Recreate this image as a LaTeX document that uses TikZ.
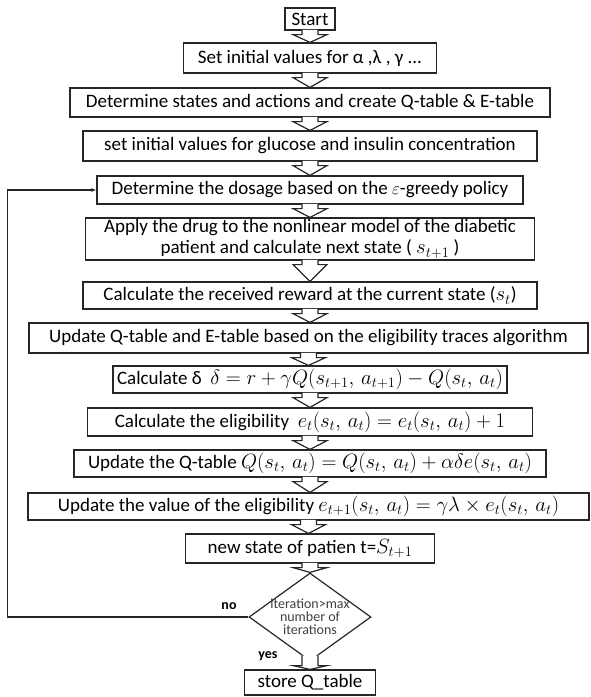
\documentclass[tikz,border=0pt]{standalone}
\usepackage{fontspec}
\setmainfont{Carlito}
\usetikzlibrary{shapes.geometric,arrows.meta,calc}

\newcommand{\eqn}[1]{{\fontsize{22}{22}\selectfont$#1$}}
\newcommand{\blockarrow}[3][0.8pt]{%
  \draw[blockarr] let \p1=(#2.south), \p2=(#3.north) in
    (\x1-8pt,\y1+#1) -- (\x1-8pt,\y1-4pt) -- (\x1-17pt,\y1-4pt) -- (\x1,\y2)
    -- (\x1+17pt,\y1-4pt) -- (\x1+8pt,\y1-4pt) -- (\x1+8pt,\y1+#1);}

\begin{document}
\begin{tikzpicture}[x=1pt,y=-1pt,
  box/.style={draw=black!85,line width=1.2pt,fill=white,inner sep=0pt,
    font=\fontsize{19}{20}\selectfont,align=center},
  decision/.style={draw=black!85,line width=1.2pt,diamond,aspect=1.39,
    inner xsep=-10pt,inner ysep=-6pt,
    minimum width=122pt,minimum height=88pt,align=center,text=black!75,
    font=\fontsize{14}{13}\selectfont},
  blockarr/.style={draw=black!85,line width=1.2pt,fill=white,line join=miter},
  loopline/.style={draw=black!85,line width=1.2pt,-{Latex[length=5pt,width=4pt]}},
  answer/.style={font=\fontsize{14}{16}\selectfont\bfseries}]
\useasboundingbox (0,0) rectangle (590,697);
\node[box,minimum width=50pt,minimum height=22pt] (start) at (310,19) {Start};
\node[box,minimum width=253pt,minimum height=30pt] (init) at (310,58) {Set initial values for α ,λ , γ ...};
\node[box,minimum width=480pt,minimum height=29pt] (states) at (310,102.5) {Determine states and actions and create Q-table \& E-table};
\node[box,minimum width=454pt,minimum height=30pt] (gluc) at (310,146) {set initial values for glucose and insulin concentration};
\node[box,minimum width=426pt,minimum height=28pt] (dose) at (310,190) {Determine the dosage based on the $\varepsilon$-greedy policy};
\node[box,minimum width=449pt,minimum height=42pt] (apply) at (310,239) {Apply the drug to the nonlinear model of the diabetic\\[1pt]patient and calculate next state ( \eqn{s_{t+1}} )};
\node[box,minimum width=454pt,minimum height=27pt] (reward) at (310,295.5) {Calculate the received reward at the current state (\eqn{s_t})};
\node[box,minimum width=559pt,minimum height=30pt] (upd) at (308.5,338) {Update Q-table and E-table based on the eligibility traces algorithm};
\node[box,minimum width=394pt,minimum height=27pt] (delta) at (310,379.5) {Calculate δ \ \eqn{\delta = r + \gamma Q(s_{t+1},\,a_{t+1}) - Q(s_t,\,a_t)}};
\node[box,minimum width=445pt,minimum height=28pt] (elig) at (310,422) {Calculate the eligibility \ \eqn{e_t(s_t,\,a_t) = e_t(s_t,\,a_t) + 1}};
\node[box,minimum width=472pt,minimum height=27pt] (updq) at (310,463.5) {Update the Q-table \eqn{Q(s_t,\,a_t) = Q(s_t,\,a_t) + \alpha\delta e(s_t,\,a_t)}};
\node[box,minimum width=561pt,minimum height=27pt] (updval) at (308.5,506.5) {Update the value of the eligibility \eqn{e_{t+1}(s_t,\,a_t) = \gamma\lambda \times e_t(s_t,\,a_t)}};
\node[box,minimum width=249pt,minimum height=29pt] (newst) at (310,548.5) {new state of patien t=\eqn{S_{t+1}}};
\node[decision] (dec) at (310,617) {iteration>max\\number of\\iterations};
\node[box,minimum width=131pt,minimum height=25pt] (store) at (310,682.5) {store Q\_table};
\node[answer] (no) at (229,606) {no};
\node[answer] (yes) at (268,656) {yes};
\blockarrow{start}{init}
\blockarrow{init}{states}
\blockarrow{states}{gluc}
\blockarrow{gluc}{dose}
\blockarrow{dose}{apply}
\blockarrow{apply}{reward}
\blockarrow{reward}{upd}
\blockarrow{upd}{delta}
\blockarrow{delta}{elig}
\blockarrow{elig}{updq}
\blockarrow{updq}{updval}
\blockarrow{updval}{newst}
\blockarrow{newst}{dec}
\blockarrow[6pt]{dec}{store}
\draw[loopline] (dec.west) -- ++(-241,0) |- (dose.west);
\end{tikzpicture}
\end{document}
